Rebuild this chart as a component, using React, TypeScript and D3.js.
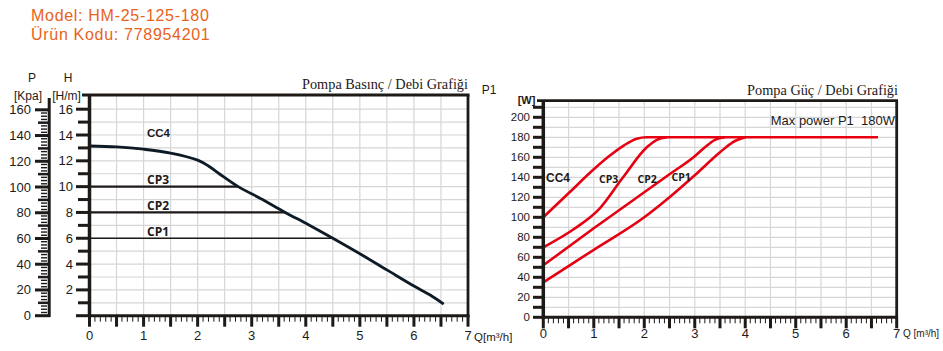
import React from "react";
import * as d3 from "d3";

// ---------- data ----------
const headerLines = ["Model: HM-25-125-180", "Ürün Kodu: 778954201"];
const flowTicks = [0, 1, 2, 3, 4, 5, 6, 7];
const headTicks = [2, 4, 6, 8, 10, 12, 14, 16];
const pressureTicks = [0, 20, 40, 60, 80, 100, 120, 140, 160];
const powerTicks = [0, 20, 40, 60, 80, 100, 120, 140, 160, 180, 200];

// Q [m3/h], H [m]
const cc4Flow = [0, 0.5, 1, 1.5, 2, 2.2, 2.4, 2.75, 3.2, 3.62, 4.05, 4.5, 5.0, 5.5, 6.0, 6.3, 6.55];
const cc4Head = [13.15, 13.08, 12.9, 12.6, 12.05, 11.6, 11.0, 10.0, 9.0, 8.0, 7.05, 6.0, 4.8, 3.55, 2.3, 1.6, 0.9];

const cpNames = ["CP3", "CP2", "CP1"];
const cpHead = [10, 8, 6];
const cpFlowEnd = [2.75, 3.62, 4.5];

// Q [m3/h], P1 [W]
const cc4PowerFlow = [0, 0.5, 1.0, 1.3, 1.6, 1.85, 2.05, 6.63];
const cc4Power = [100, 124, 148, 161, 172, 178.5, 180, 180];
const cp3PowerFlow = [0, 0.6, 1.12, 1.58, 2.05, 2.25, 2.45];
const cp3Power = [70, 88, 109, 140, 170, 177.5, 180];
const cp2PowerFlow = [0, 1, 2, 2.5, 3.0, 3.2, 3.4, 3.6];
const cp2Power = [52, 89, 125, 143, 161, 170, 177.5, 180];
const cp1PowerFlow = [0, 1, 2, 2.5, 3.0, 3.5, 3.75, 4.0];
const cp1Power = [35, 67.5, 100, 120, 142, 165, 175, 180];

const maxPowerLabel = "Max power P1  180W";
const leftTitle = "Pompa Basınç / Debi Grafiği";
const rightTitle = "Pompa Güç / Debi Grafiği";

// ---------- style ----------
const INK = "#1e1a18";
const RED = "#e60012";
const GRID = "#d6d6d6";
const SANS = "'Liberation Sans', Arial, sans-serif";
const SERIF = "'Liberation Serif', 'Times New Roman', serif";
const BOLD = "'Open Sans', 'Liberation Sans', sans-serif";

const zip = (a: number[], b: number[]) => a.map((v, i) => [v, b[i]] as [number, number]);

export default function App() {
  // left scales
  const lx = d3.scaleLinear().domain([0, 7]).range([89.5, 468]);
  const ly = d3.scaleLinear().domain([0, 17.1]).range([315.7, 95]);
  const py = d3.scaleLinear().domain([0, 171.5]).range([315.7, 95]);
  // right scales
  const rx = d3.scaleLinear().domain([0, 7]).range([543.3, 896.7]);
  const ry = d3.scaleLinear().domain([0, 216.6]).range([317.3, 100.7]);

  const headLine = d3
    .line<[number, number]>()
    .x((d) => lx(d[0]))
    .y((d) => ly(d[1]))
    .curve(d3.curveCatmullRom.alpha(0.5));
  const powerLine = d3
    .line<[number, number]>()
    .x((d) => rx(d[0]))
    .y((d) => ry(d[1]))
    .curve(d3.curveMonotoneX);

  const halfSteps = d3.range(0.5, 7, 0.5);
  const tenths = d3.range(0, 71).map((i) => i / 10);

  const xAxis = (
    sx: d3.ScaleLinear<number, number>,
    y0: number,
    labelY: number,
    key: string
  ) => (
    <g key={key}>
      {tenths.map((q, i) => {
        const major = i % 5 === 0;
        return (
          <line
            key={i}
            x1={sx(q)}
            x2={sx(q)}
            y1={y0}
            y2={y0 + (major ? 11 : 6)}
            stroke={INK}
            strokeWidth={major ? 3 : 1}
          />
        );
      })}
      {flowTicks.map((q) => (
        <text
          key={q}
          x={sx(q)}
          y={labelY}
          textAnchor="middle"
          fontFamily={SANS}
          fontSize={13}
          fill={INK}
        >
          {q}
        </text>
      ))}
    </g>
  );

  return (
    <svg
      width={943}
      height={351}
      style={{ position: "absolute", left: 0, top: 0, background: "#fff" }}
    >
      {/* header */}
      {headerLines.map((t, i) => (
        <text
          key={i}
          x={31}
          y={21 + i * 18.5}
          fontFamily={SANS}
          fontSize={16}
          letterSpacing={0.7}
          fill="#e8621c"
        >
          {t}
        </text>
      ))}

      {/* ================= LEFT CHART ================= */}
      {halfSteps.map((q) => (
        <line key={"lg" + q} x1={lx(q)} x2={lx(q)} y1={95} y2={315.7} stroke={GRID} strokeWidth={1.2} />
      ))}
      {d3.range(1, 17).map((h) => (
        <line key={"lh" + h} x1={89.5} x2={468} y1={ly(h)} y2={ly(h)} stroke={GRID} strokeWidth={1.2} />
      ))}

      {/* CP lines */}
      {cpNames.map((n, i) => (
        <g key={n}>
          <line
            x1={lx(0)}
            x2={lx(cpFlowEnd[i])}
            y1={ly(cpHead[i])}
            y2={ly(cpHead[i])}
            stroke={INK}
            strokeWidth={i === 2 ? 1.6 : 2.2}
          />
          <text
            x={147}
            y={ly(cpHead[i]) - 2.5}
            fontFamily={BOLD}
            fontWeight={700}
            fontSize={12}
            fill={INK}
          >
            {n}
          </text>
        </g>
      ))}
      <text x={147} y={136.5} fontFamily={SANS} fontWeight={700} fontSize={11.5} fill={INK}>
        CC4
      </text>
      <path d={headLine(zip(cc4Flow, cc4Head)) || ""} fill="none" stroke="#0e1a26" strokeWidth={2.8} />

      {/* frame */}
      <line x1={82} x2={469.5} y1={95} y2={95} stroke={INK} strokeWidth={2.8} />
      <line x1={468} x2={468} y1={95} y2={317} stroke={INK} strokeWidth={2.8} />
      <line x1={89.5} x2={469.5} y1={315.7} y2={315.7} stroke={INK} strokeWidth={3} />
      <line x1={89.5} x2={89.5} y1={95} y2={317} stroke={INK} strokeWidth={3.5} />

      {/* H axis */}
      {d3.range(0, 17).map((h) => (
        <line
          key={"ht" + h}
          x1={h % 2 === 0 ? 76 : 78}
          x2={89.5}
          y1={ly(h)}
          y2={ly(h)}
          stroke={INK}
          strokeWidth={3}
        />
      ))}
      {headTicks.map((h) => (
        <text
          key={"hl" + h}
          x={73}
          y={ly(h) + 4.5}
          textAnchor="end"
          fontFamily={SANS}
          fontSize={13}
          fill={INK}
        >
          {h}
        </text>
      ))}

      {/* P axis */}
      <line x1={49.2} x2={49.2} y1={98} y2={317} stroke={INK} strokeWidth={3} />
      {d3.range(0, 65).map((i) => {
        const p = i * 2.5;
        const major = p % 20 === 0;
        const mid = !major && p % 10 === 0;
        return (
          <line
            key={"pt" + i}
            x1={major ? 35 : mid ? 38 : 41}
            x2={major ? 50 : mid ? 48 : 47}
            y1={py(p)}
            y2={py(p)}
            stroke={INK}
            strokeWidth={major ? 3 : mid ? 2.5 : 1.4}
          />
        );
      })}
      {pressureTicks.map((p) => (
        <text
          key={"pl" + p}
          x={31}
          y={py(p) + 4.5}
          textAnchor="end"
          fontFamily={SANS}
          fontSize={13}
          fill={INK}
        >
          {p}
        </text>
      ))}
      <text x={32} y={82} textAnchor="middle" fontFamily={SANS} fontSize={12} fill={INK}>
        P
      </text>
      <text x={28} y={100} textAnchor="middle" fontFamily={SANS} fontSize={12} fill={INK}>
        [Kpa]
      </text>
      <text x={68} y={82} textAnchor="middle" fontFamily={SANS} fontSize={12} fill={INK}>
        H
      </text>
      <text x={66.5} y={100} textAnchor="middle" fontFamily={SANS} fontSize={12} fill={INK}>
        [H/m]
      </text>

      {xAxis(lx, 315.7, 340, "lxa")}
      <text x={474} y={341} fontFamily={SANS} fontSize={11.5} fill={INK}>
        Q[m³/h]
      </text>
      <text x={468} y={89} textAnchor="end" fontFamily={SERIF} fontSize={14.3} fill={INK}>
        {leftTitle}
      </text>

      {/* ================= RIGHT CHART ================= */}
      {halfSteps.map((q) => (
        <line key={"rg" + q} x1={rx(q)} x2={rx(q)} y1={100.7} y2={317.3} stroke={GRID} strokeWidth={1.2} />
      ))}
      {d3.range(10, 220, 10).map((w) => (
        <line key={"rh" + w} x1={543.3} x2={896.7} y1={ry(w)} y2={ry(w)} stroke={GRID} strokeWidth={1.2} />
      ))}

      {[
        zip(cc4PowerFlow, cc4Power),
        zip(cp3PowerFlow, cp3Power),
        zip(cp2PowerFlow, cp2Power),
        zip(cp1PowerFlow, cp1Power),
      ].map((pts, i) => (
        <path key={"pw" + i} d={powerLine(pts) || ""} fill="none" stroke={RED} strokeWidth={2.6} />
      ))}

      <text x={546} y={182} fontFamily={SANS} fontWeight={700} fontSize={12} fill={INK}>
        CC4
      </text>
      <text x={599} y={183} fontFamily={BOLD} fontWeight={700} fontSize={10.5} fill={INK}>
        CP3
      </text>
      <text x={637.5} y={183} fontFamily={BOLD} fontWeight={700} fontSize={10.5} fill={INK}>
        CP2
      </text>
      <text x={671.5} y={181} fontFamily={BOLD} fontWeight={700} fontSize={10.5} fill={INK}>
        CP1
      </text>
      <text
        x={895}
        y={125}
        textAnchor="end"
        fontFamily={SANS}
        fontSize={13}
        fill={INK}
        style={{ whiteSpace: "pre" }}
      >
        {maxPowerLabel}
      </text>

      {/* frame */}
      <line x1={537} x2={898} y1={100.7} y2={100.7} stroke={INK} strokeWidth={2.8} />
      <line x1={896.7} x2={896.7} y1={100.7} y2={318} stroke={INK} strokeWidth={2.8} />
      <line x1={543.3} x2={898} y1={317.3} y2={317.3} stroke={INK} strokeWidth={3} />
      <line x1={543.3} x2={543.3} y1={100.7} y2={319} stroke={INK} strokeWidth={3.5} />

      {d3.range(0, 220, 10).map((w) => (
        <line key={"wt" + w} x1={533} x2={543.3} y1={ry(w)} y2={ry(w)} stroke={INK} strokeWidth={3} />
      ))}
      {powerTicks.map((w) => (
        <text
          key={"wl" + w}
          x={530}
          y={ry(w) + 4}
          textAnchor="end"
          fontFamily={SANS}
          fontSize={11.5}
          fill={INK}
        >
          {w}
        </text>
      ))}
      <text x={489} y={94} textAnchor="middle" fontFamily={SANS} fontSize={12} fill={INK}>
        P1
      </text>
      <text x={526.5} y={104} textAnchor="middle" fontFamily={SANS} fontWeight={700} fontSize={11} fill={INK}>
        [W]
      </text>

      {xAxis(rx, 317.3, 338, "rxa")}
      <text x={903} y={337} fontFamily={SANS} fontSize={10} fill={INK}>
        Q [m³/h]
      </text>
      <text x={898} y={95} textAnchor="end" fontFamily={SERIF} fontSize={14.3} fill={INK}>
        {rightTitle}
      </text>
    </svg>
  );
}
